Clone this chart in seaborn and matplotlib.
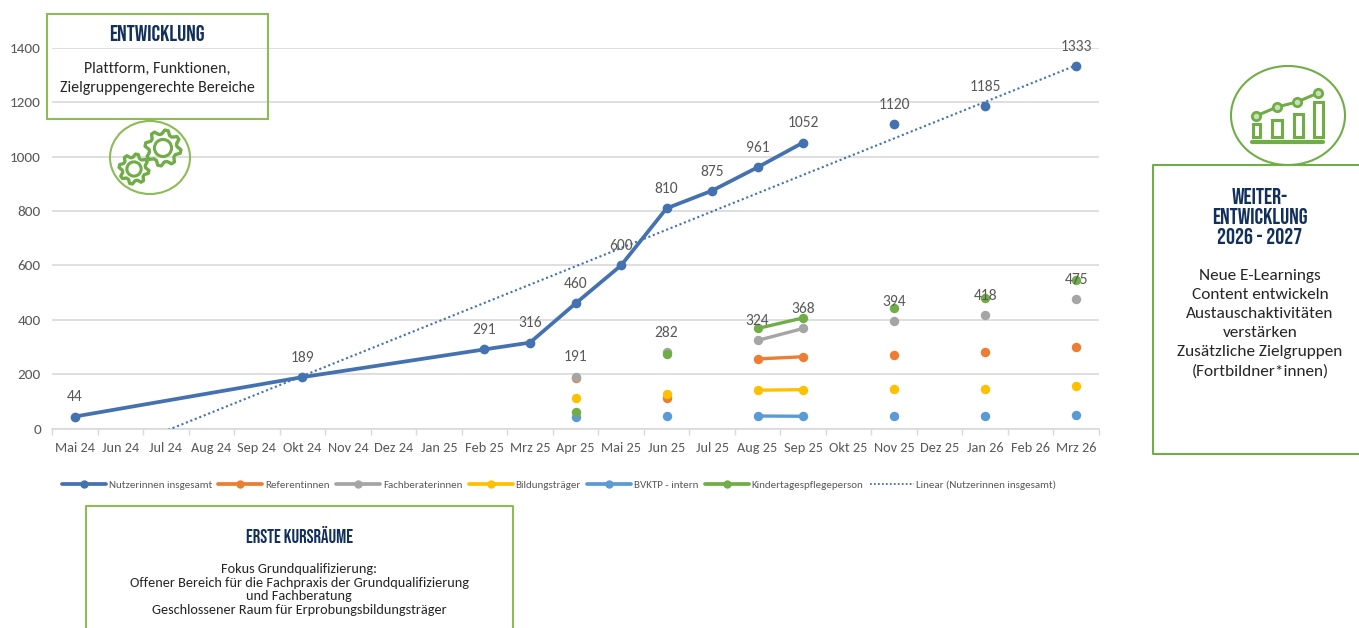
import numpy as np
import pandas as pd
import seaborn as sns
import matplotlib.pyplot as plt
from matplotlib.patches import Ellipse, Polygon, Rectangle
from matplotlib.lines import Line2D

months = ['Mai 24', 'Jun 24', 'Jul 24', 'Aug 24', 'Sep 24', 'Okt 24', 'Nov 24', 'Dez 24',
          'Jan 25', 'Feb 25', 'Mrz 25', 'Apr 25', 'Mai 25', 'Jun 25', 'Jul 25', 'Aug 25',
          'Sep 25', 'Okt 25', 'Nov 25', 'Dez 25', 'Jan 26', 'Feb 26', 'Mrz 26']

# Gesamtkurve: Monat -> Wert
total_months = ['Mai 24', 'Okt 24', 'Feb 25', 'Mrz 25', 'Apr 25', 'Mai 25', 'Jun 25', 'Jul 25',
                'Aug 25', 'Sep 25', 'Nov 25', 'Jan 26', 'Mrz 26']
total_values = [44, 189, 291, 316, 460, 600, 810, 875, 961, 1052, 1120, 1185, 1333]
total_joined = ['Mai 24', 'Okt 24', 'Feb 25', 'Mrz 25', 'Apr 25', 'Mai 25', 'Jun 25', 'Jul 25',
                'Aug 25', 'Sep 25']

# Zielgruppen: gleiche Monate fuer alle
group_months = ['Apr 25', 'Jun 25', 'Aug 25', 'Sep 25', 'Nov 25', 'Jan 26', 'Mrz 26']
group_joined = ['Aug 25', 'Sep 25']
referentinnen = [186, 113, 256, 264, 272, 281, 300]
fachberaterinnen = [191, 282, 324, 368, 394, 418, 475]
bildungstraeger = [112, 126, 141, 143, 147, 145, 158]
bvktp = [43, 45, 46, 45, 45, 45, 51]
kindertagespflege = [60, 275, 368, 407, 442, 480, 547]

BLUE = '#4472b0'
ORANGE = '#ed7d31'
GRAY = '#a5a5a5'
YELLOW = '#ffc000'
LIGHTBLUE = '#5b9bd5'
GREEN = '#70ad47'
BOX = '#8dbb55'
NAVY = '#12305c'
TEXT = '#595959'
BODY_FONT = ['Carlito', 'Lato', 'DejaVu Sans']
HEAD_FONT = ['Bebas Neue', 'Oswald', 'DejaVu Sans']

sns.set_theme(style='white')
plt.rcParams['font.family'] = BODY_FONT

fig = plt.figure(figsize=(13.59, 6.28), dpi=100)
W, H = 1359, 628
ax = fig.add_axes([52 / W, 1 - 428.5 / H, (1099 - 52) / W, 380.5 / H])

pos = {m: i for i, m in enumerate(months)}


def draw_series(names, values, joined, color, lw, ms, zorder):
    df = pd.DataFrame({'month': names, 'value': values})
    df['x'] = df['month'].map(pos)
    line_part = df[df['month'].isin(joined)]
    dots = df[~df['month'].isin(joined)]
    sns.lineplot(data=line_part, x='x', y='value', color=color, linewidth=lw, marker='o',
                 markersize=ms, markeredgewidth=0, ax=ax, zorder=zorder, errorbar=None)
    sns.scatterplot(data=dots, x='x', y='value', color=color, s=ms ** 2, linewidth=0,
                    ax=ax, zorder=zorder)


draw_series(total_months, total_values, total_joined, BLUE, 2.7, 7, 5)
draw_series(group_months, referentinnen, group_joined, ORANGE, 2.4, 6.8, 6)
draw_series(group_months, fachberaterinnen, group_joined, GRAY, 2.4, 6.8, 7)
draw_series(group_months, bildungstraeger, group_joined, YELLOW, 2.4, 6.8, 8)
draw_series(group_months, bvktp, group_joined, LIGHTBLUE, 2.4, 6.8, 9)
draw_series(group_months, kindertagespflege, group_joined, GREEN, 2.4, 6.8, 10)

# Lineare Trendlinie der Gesamtkurve
tx = np.array([pos[m] for m in total_months])
slope, intercept = np.polyfit(tx, total_values, 1)
trend_x = np.array([0, len(months) - 1])
ax.plot(trend_x, slope * trend_x + intercept, color=BLUE, lw=1.5, ls=(0, (1, 1.3)), zorder=4)

# Datenbeschriftungen
for m, v in zip(total_months, total_values):
    ax.annotate(str(v), (pos[m], v), xytext=(0, 13.8), textcoords='offset points', ha='center',
                va='center', fontsize=11.2, color=TEXT, zorder=20)
for m, v in zip(group_months, fachberaterinnen):
    ax.annotate(str(v), (pos[m], v), xytext=(0, 13.8), textcoords='offset points', ha='center',
                va='center', fontsize=11.2, color=TEXT, zorder=20)

ax.set_xlim(-0.5, len(months) - 0.5)
ax.set_ylim(0, 1400)
ax.set_yticks(range(0, 1401, 200))
ax.set_xticks(range(len(months)))
ax.set_xticklabels(months)
ax.set_xticks(np.arange(-0.5, len(months)), minor=True)
ax.set_xlabel('')
ax.set_ylabel('')
ax.grid(axis='y', color='#d9d9d9', lw=1.2)
ax.set_axisbelow(True)
for s in ['top', 'right', 'left']:
    ax.spines[s].set_visible(False)
ax.spines['bottom'].set_color('#d9d9d9')
ax.spines['bottom'].set_linewidth(1.2)
ax.tick_params(axis='x', which='major', length=0, labelsize=10.3, labelcolor=TEXT, pad=10)
ax.tick_params(axis='x', which='minor', length=4, color='#d9d9d9', width=1, bottom=True)
ax.tick_params(axis='y', length=0, labelsize=11, labelcolor=TEXT, pad=8)

handles = [
    Line2D([], [], color=BLUE, lw=2.7, marker='o', ms=5, label='Nutzerinnen insgesamt'),
    Line2D([], [], color=ORANGE, lw=2.7, marker='o', ms=5, label='Referentinnen'),
    Line2D([], [], color=GRAY, lw=2.7, marker='o', ms=5, label='Fachberaterinnen'),
    Line2D([], [], color=YELLOW, lw=2.7, marker='o', ms=5, label='Bildungsträger'),
    Line2D([], [], color=LIGHTBLUE, lw=2.7, marker='o', ms=5, label='BVKTP - intern'),
    Line2D([], [], color=GREEN, lw=2.7, marker='o', ms=5, label='Kindertagespflegeperson'),
    Line2D([], [], color=BLUE, lw=1.3, ls=(0, (1, 1.2)), label='Linear (Nutzerinnen insgesamt)'),
]
fig.legend(handles=handles, loc='center left', bbox_to_anchor=(62 / W, 1 - 485 / H), ncol=7,
           frameon=False, fontsize=7.9, labelcolor=TEXT, handlelength=4.0, handletextpad=0.25,
           columnspacing=0.6, borderpad=0, borderaxespad=0)

# Ueberlagerung in Pixelkoordinaten fuer Kaesten und Icons
ov = fig.add_axes([0, 0, 1, 1], facecolor='none')
ov.set_xlim(0, W)
ov.set_ylim(H, 0)
ov.axis('off')


def box(x0, y0, x1, y1, color=BOX):
    ov.add_patch(Rectangle((x0, y0), x1 - x0, y1 - y0, fill=False, ec=color, lw=1.5))


def gear(cx, cy, r, teeth=8):
    ang = np.linspace(0, 2 * np.pi, teeth * 4, endpoint=False) + np.pi / teeth / 4
    rad = np.tile([r, r, r * 0.78, r * 0.78], teeth)
    pts = np.column_stack([cx + rad * np.cos(ang), cy + rad * np.sin(ang)])
    ov.add_patch(Polygon(pts, closed=True, fill=False, ec=GREEN, lw=2.4, joinstyle='round'))
    ov.add_patch(Ellipse((cx, cy), r * 0.95, r * 0.95, fill=False, ec=GREEN, lw=2.2))


box(47, 14, 268, 119)
ov.text(157, 33, 'ENTWICKLUNG', ha='center', va='center', fontsize=16.2, color=NAVY,
        family=HEAD_FONT)
ov.text(157, 78.5, 'Plattform, Funktionen,\nZielgruppengerechte Bereiche', ha='center', va='center',
        fontsize=11.4, color='#262626', linespacing=1.41)
ov.add_patch(Ellipse((150, 157.5), 80, 73, fill=False, ec=BOX, lw=1.5))
gear(163, 148, 18)
gear(134, 169, 15)

# rechter Kasten laeuft ueber den Bildrand
ov.plot([1359, 1153, 1153, 1359], [165, 165, 454, 454], color=GREEN, lw=1.5, clip_on=False)
ov.text(1260, 216, 'WEITER-\nENTWICKLUNG\n2026 - 2027', ha='center', va='center', fontsize=16.2,
        color=NAVY, family=HEAD_FONT, linespacing=1.25)
ov.text(1260, 324, 'Neue E-Learnings\nContent entwickeln\nAustauschaktivitäten\nverstärken\n'
        'Zusätzliche Zielgruppen\n(Fortbildner*innen)', ha='center', va='center', fontsize=12.4,
        color='#262626', linespacing=1.46)
ov.add_patch(Ellipse((1288, 115.5), 114, 99, fill=False, ec=GREEN, lw=1.5))
for bx0, bx1, by in [(1253, 1260, 124), (1272, 1282, 120), (1294, 1303, 114), (1314, 1323, 102)]:
    ov.add_patch(Rectangle((bx0, by), bx1 - bx0, 137 - by, fill=False, ec=GREEN, lw=2.2))
ov.plot([1252, 1323], [142, 142], color=GREEN, lw=3, solid_capstyle='round')
ov.plot([1256, 1277, 1297, 1318], [116, 107, 102, 93], color=GREEN, lw=2.2, marker='o', ms=6,
        mfc='#c9dfb5', mec=GREEN, mew=2)

# unterer Kasten, unten abgeschnitten
ov.plot([86, 86, 513, 513], [628, 506, 506, 628], color=BOX, lw=1.5, clip_on=False)
ov.text(299, 535, 'ERSTE KURSRÄUME', ha='center', va='center', fontsize=13.5, color=NAVY,
        family=HEAD_FONT)
ov.text(299, 589.5, 'Fokus Grundqualifizierung:\nOffener Bereich für die Fachpraxis der Grundqualifizierung\n'
        'und Fachberatung\nGeschlossener Raum für Erprobungsbildungsträger', ha='center', va='center',
        fontsize=10.3, color='#262626', linespacing=1.18)

plt.savefig('out.png', dpi=100)
plt.close()
